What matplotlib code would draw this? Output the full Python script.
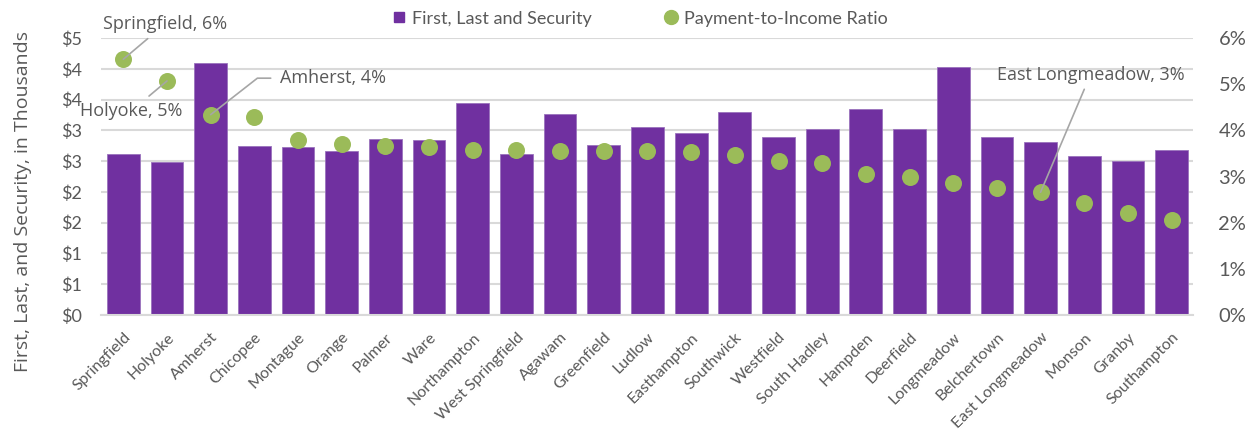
import matplotlib
matplotlib.use('Agg')
import matplotlib.pyplot as plt
import numpy as np
import math

towns = ['Springfield', 'Holyoke', 'Amherst', 'Chicopee', 'Montague', 'Orange', 'Palmer', 'Ware',
         'Northampton', 'West Springfield', 'Agawam', 'Greenfield', 'Ludlow', 'Easthampton',
         'Southwick', 'Westfield', 'South Hadley', 'Hampden', 'Deerfield', 'Longmeadow',
         'Belchertown', 'East Longmeadow', 'Monson', 'Granby', 'Southampton']
# first, last and security (thousands of $)
fls = [2.61, 2.49, 4.10, 2.745, 2.73, 2.66, 2.86, 2.84, 3.45, 2.61, 3.27, 2.76, 3.06, 2.96,
       3.29, 2.89, 3.02, 3.34, 3.03, 4.03, 2.90, 2.81, 2.58, 2.51, 2.68]
# payment-to-income ratio (%)
pti = [5.54, 5.07, 4.34, 4.28, 3.80, 3.70, 3.67, 3.63, 3.58, 3.57, 3.56, 3.55, 3.55, 3.54,
       3.46, 3.34, 3.30, 3.06, 3.00, 2.86, 2.76, 2.66, 2.42, 2.22, 2.05]

purple = '#7030A0'
green = '#9BBB59'
grey = '#595959'
tickfont = 'Lato'
labfont = 'Open Sans'

fig = plt.figure(figsize=(12.56, 4.32), dpi=100)
ax = fig.add_axes([0.0808, 0.2708, 0.8694, 0.6412])
x = np.arange(len(towns))

ax.bar(x, fls, width=0.75, color=purple, edgecolor='#9a72bd', linewidth=0.6, zorder=2,
       label='First, Last and Security')
ax.set_ylim(0, 4.5)
ax.set_xlim(-0.5, len(towns) - 0.5)
ax.set_yticks(np.arange(0, 4.51, 0.5))
ax.set_yticklabels(['$%d' % math.floor(v + 0.5) for v in np.arange(0, 4.51, 0.5)])
ax.yaxis.grid(True, color='#d9d9d9', linewidth=1.5, zorder=0)
ax.set_axisbelow(True)
for s in ['top', 'right', 'left']:
    ax.spines[s].set_visible(False)
ax.spines['bottom'].set_color('#d9d9d9')
ax.spines['bottom'].set_linewidth(1.5)
ax.tick_params(axis='both', length=0, colors=grey)
ax.tick_params(axis='y', labelsize=13, pad=14)
for t in ax.get_yticklabels():
    t.set_family(tickfont)
ax.set_xticks(x)
ax.set_xticklabels(towns, rotation=45, ha='right', rotation_mode='anchor',
                   fontsize=11.5, family=tickfont, color=grey)
ax.tick_params(axis='x', pad=11)
fig.text(23 / 1256, 1 - 201 / 432, 'First, Last, and Security, in Thousands', rotation=90,
         ha='center', va='center', fontsize=14, color=grey, family=labfont)

ax2 = ax.twinx()
ax2.scatter(x, pti, s=150, color=green, zorder=3, label='Payment-to-Income Ratio', linewidths=0)
ax2.set_ylim(0, 6)
ax2.set_yticks(range(0, 7))
ax2.set_yticklabels(['%d%%' % v for v in range(0, 7)])
for s in ['top', 'right', 'left', 'bottom']:
    ax2.spines[s].set_visible(False)
ax2.tick_params(axis='y', length=0, colors=grey, labelsize=14.5, pad=18)
for t in ax2.get_yticklabels():
    t.set_family(tickfont)

# callouts
lc = '#a6a6a6'
ann = dict(fontsize=13, color=grey, family=labfont, ha='center', va='center')
ax2.annotate('Springfield, 6%', xy=(0, pti[0]), xytext=(0.95, 6.3),
             arrowprops=dict(arrowstyle='-', color=lc, lw=1.2, shrinkA=3, shrinkB=0), **ann)
ax2.annotate('Holyoke, 5%', xy=(1, pti[1]), xytext=(0.17, 4.41),
             arrowprops=dict(arrowstyle='-', color=lc, lw=1.2, shrinkA=4, shrinkB=0), **ann)
ax2.annotate('Amherst, 4%', xy=(2, pti[2]), xytext=(4.81, 5.13),
             arrowprops=dict(arrowstyle='-', color=lc, lw=1.2, shrinkA=5, shrinkB=0,
                             relpos=(0, 0.5), connectionstyle='angle,angleA=0,angleB=38,rad=0'),
             **ann)
ax2.annotate('East Longmeadow, 3%', xy=(21, pti[21]), xytext=(22.14, 5.2),
             arrowprops=dict(arrowstyle='-', color=lc, lw=1.2, shrinkA=2, shrinkB=0), **ann)

h1, l1 = ax.get_legend_handles_labels()
h2, l2 = ax2.get_legend_handles_labels()
leg = fig.legend([plt.Line2D([], [], marker='s', color=purple, ls='', markersize=7),
                  plt.Line2D([], [], marker='o', color=green, ls='', markersize=10)],
                 l1 + l2, loc='center', bbox_to_anchor=(0.508, 0.957), ncol=2, frameon=False,
                 handletextpad=0.1, columnspacing=3.8, handlelength=1.2,
                 prop={'family': tickfont, 'size': 13})
for t in leg.get_texts():
    t.set_color(grey)

fig.savefig('out.png', dpi=100)
